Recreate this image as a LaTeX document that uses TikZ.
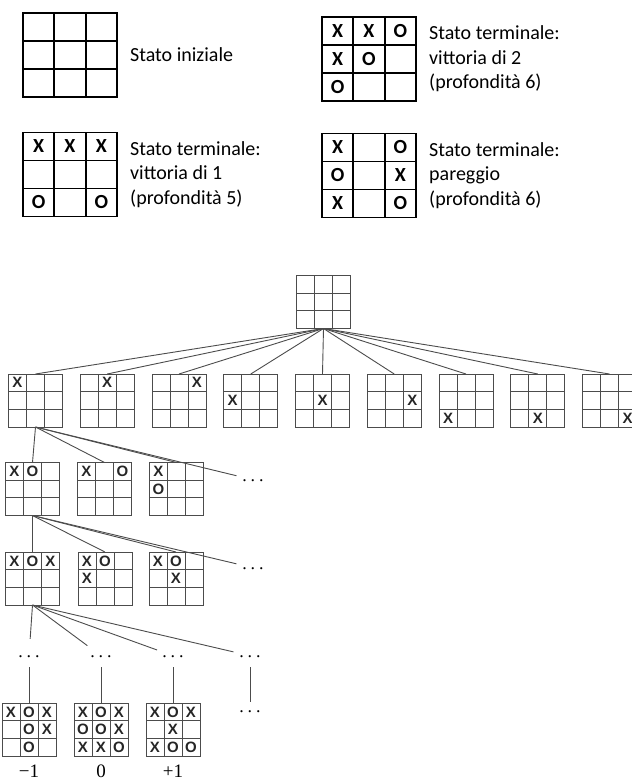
\documentclass[tikz,border=0pt]{standalone}
\usepackage{fontspec}
\usetikzlibrary{calc,positioning}
\newfontfamily\calibri{Carlito}
\newfontfamily\arial{Liberation Sans}
\newfontfamily\tnr{Liberation Serif}
\definecolor{grigio}{gray}{0.3}

\tikzset{
  griglia/.style 2 args={draw=#2, line width=#1, inner sep=0pt, outer sep=0pt,
    path picture={
      \foreach \f in {1,2} {
        \draw[#2, line width=#1]
          ($(path picture bounding box.north west)!\f/3!(path picture bounding box.north east)$) --
          ($(path picture bounding box.south west)!\f/3!(path picture bounding box.south east)$);
        \draw[#2, line width=#1]
          ($(path picture bounding box.north west)!\f/3!(path picture bounding box.south west)$) --
          ($(path picture bounding box.north east)!\f/3!(path picture bounding box.south east)$);
      }}},
  grande/.style={griglia={1.8pt}{black}, minimum width=94pt, minimum height=84pt},
  piccola/.style={griglia={0.9pt}{grigio}, minimum width=54pt, minimum height=53pt},
  segnogrande/.style={inner sep=0pt, font=\calibri\bfseries\fontsize{20}{20}\selectfont},
  segnopiccola/.style={inner sep=0pt, font=\arial\bfseries\fontsize{15}{15}\selectfont, text=black!85},
  didascalia/.style={inner sep=0pt, align=left, font=\calibri\fontsize{20}{24.5}\selectfont},
  ramo/.style={draw=grigio, line width=0.9pt},
  puntini/.style={inner sep=0pt, font=\tnr\fontsize{18}{18}\selectfont},
  valore/.style={inner sep=0pt, font=\tnr\fontsize{19}{19}\selectfont},
  versopunti/.style={shorten >=17pt},
  dapunti/.style={shorten <=9pt},
}

% scacchiera: stile, nome, centro, nove caselle
\newcommand{\tris}[4]{%
  \node[#1] (#2) at (#3) {};
  \foreach \s [count=\i from 0] in {#4} {
    \pgfmathsetmacro{\fx}{(2*mod(\i,3)+1)/6}
    \pgfmathsetmacro{\fy}{(2*int(\i/3)+1)/6}
    \coordinate (cx) at ($(#2.north west)!\fx!(#2.north east)$);
    \coordinate (cy) at ($(#2.north west)!\fy!(#2.south west)$);
    \node[segno#1] at (cx |- cy) {\s};
  }%
}
% tre punti di sospensione
\newcommand{\punti}{.\kern3.9pt.\kern3.9pt.}

\begin{document}
\begin{tikzpicture}[x=1pt, y=-1pt]
  \useasboundingbox (0,0) rectangle (632,782);
  % 1. legenda in alto
  \tris{grande}{iniz}{70,55}{,,,,,,,,}
  \node[didascalia, right=13pt of iniz] (tiniz) {Stato iniziale};
  \tris{grande}{vitt2}{369,59}{X,X,O,X,O,,O,,}
  \node[didascalia, right=13pt of vitt2] (tvitt2)
    {Stato terminale:\\vittoria di 2\\(profondità 6)};
  \tris{grande}{vitt1}{70,174.5}{X,X,X,,,,O,,O}
  \node[didascalia, right=13pt of vitt1] (tvitt1)
    {Stato terminale:\\vittoria di 1\\(profondità 5)};
  \tris{grande}{parit}{369,175.5}{X,,O,O,,X,X,,O}
  \node[didascalia, right=13pt of parit] (tparit)
    {Stato terminale:\\pareggio\\(profondità 6)};

  % 2. radice e prima mossa
  \tris{piccola}{root}{323.5,302}{,,,,,,,,}
  \tris{piccola}{a1}{35.5,400.5}{X,,,,,,,,}
  \tris{piccola}{a2}{107.25,400.5}{,X,,,,,,,}
  \tris{piccola}{a3}{179,400.5}{,,X,,,,,,}
  \tris{piccola}{a4}{250.75,400.5}{,,,X,,,,,}
  \tris{piccola}{a5}{322.5,400.5}{,,,,X,,,,}
  \tris{piccola}{a6}{394.25,400.5}{,,,,,X,,,}
  \tris{piccola}{a7}{466,400.5}{,,,,,,X,,}
  \tris{piccola}{a8}{537.75,400.5}{,,,,,,,X,}
  \tris{piccola}{a9}{609.5,400.5}{,,,,,,,,X}
  \foreach \n in {1,...,9}
    \draw[ramo] (root.south) -- (a\n.north);

  % 3. seconda mossa
  \tris{piccola}{b1}{32.5,489}{X,O,,,,,,,}
  \tris{piccola}{b2}{104.5,489}{X,,O,,,,,,}
  \tris{piccola}{b3}{176.5,489}{X,,,O,,,,,}
  \node[puntini] (b4) at (253,481) {\punti};
  \foreach \n in {1,2,3}
    \draw[ramo] (a1.south) -- (b\n.north);
  \draw[ramo, versopunti] (a1.south) -- (b4.north);

  % 4. terza mossa
  \tris{piccola}{c1}{32.5,578.5}{X,O,X,,,,,,}
  \tris{piccola}{c2}{105,578.5}{X,O,,X,,,,,}
  \tris{piccola}{c3}{176,578.5}{X,O,,,X,,,,}
  \node[puntini] (c4) at (253,569) {\punti};
  \foreach \n in {1,2,3}
    \draw[ramo] (b1.south) -- (c\n.north);
  \draw[ramo, versopunti] (b1.south) -- (c4.north);

  % 5. mosse intermedie
  \node[puntini] (e1) at (29,657) {\punti};
  \node[puntini] (e2) at (101,657) {\punti};
  \node[puntini] (e3) at (173,657) {\punti};
  \node[puntini] (e4) at (250,657) {\punti};
  \foreach \n in {1,...,4}
    \draw[ramo, versopunti] (c1.south) -- (e\n.north);

  % 6. stati terminali e utilita'
  \tris{piccola}{f1}{29,729.5}{X,O,X,,O,X,,O,}
  \tris{piccola}{f2}{101,729.5}{X,O,X,O,O,X,X,X,O}
  \tris{piccola}{f3}{173,729.5}{X,O,X,,X,,X,O,O}
  \node[puntini] (f4) at (250,712) {\punti};
  \foreach \n in {1,2,3}
    \draw[ramo, dapunti] (e\n.south) -- (f\n.north);
  \draw[ramo, dapunti, shorten >=9pt] (e4.south) -- (f4.north);
  \node[valore, below=9pt of f1] (v1) {−1};
  \node[valore, below=9pt of f2] (v2) {0};
  \node[valore, below=9pt of f3] (v3) {+1};
\end{tikzpicture}
\end{document}
